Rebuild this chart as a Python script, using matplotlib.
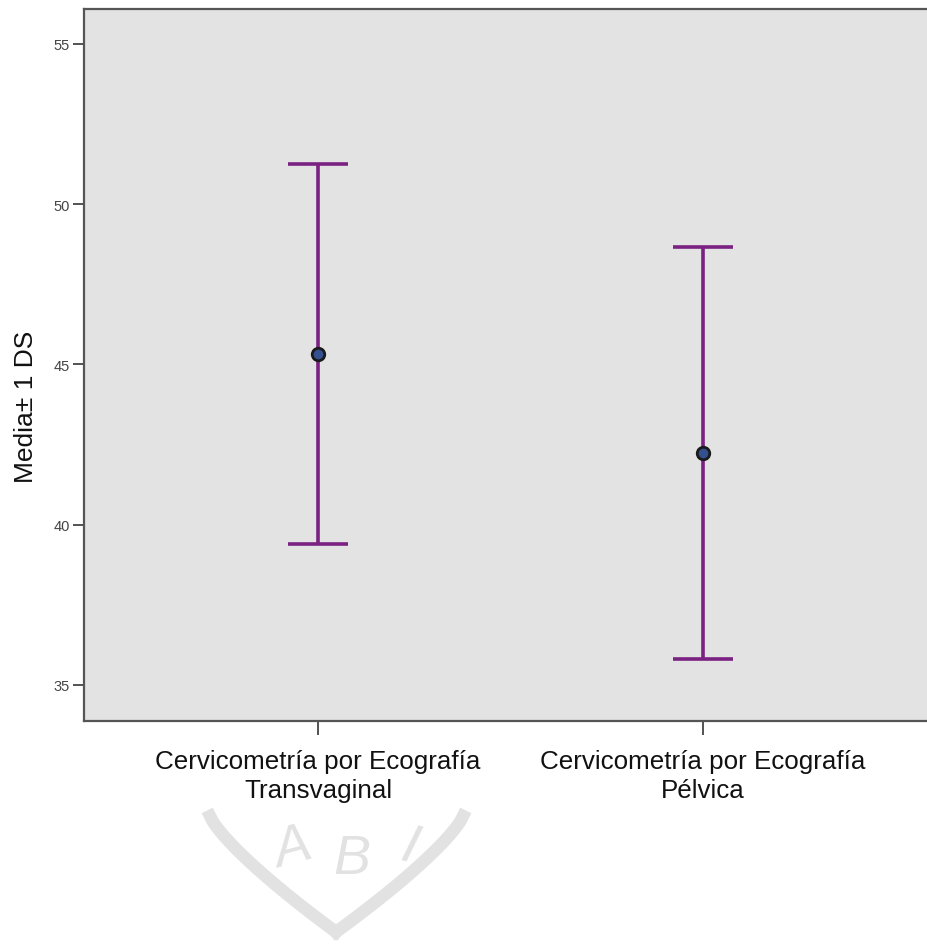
import matplotlib.pyplot as plt
import numpy as np

# data
groups = ["Cervicometría por Ecografía\nTransvaginal", "Cervicometría por Ecografía\nPélvica"]
means = [45.33, 42.23]
sd_values = [5.92, 6.43]
y_ticks = [35, 40, 45, 50, 55]

plt.rcParams['font.family'] = ['Liberation Sans', 'DejaVu Sans']

fig = plt.figure(figsize=(9.28, 9.53), dpi=100)
ax = fig.add_axes([84 / 928, 1 - 722 / 953, 1 - 84 / 928, 712 / 953])
ax.set_facecolor('#e3e3e3')

x = np.arange(len(groups))
ax.errorbar(x, means, yerr=sd_values, fmt='none', ecolor='#7a2182',
            elinewidth=2.6, capsize=21.5, capthick=2.6, zorder=2)
ax.plot(x, means, 'o', color='#34508f', markeredgecolor='#1a1a1a',
        markeredgewidth=2, markersize=9, zorder=3)

ax.set_xlim(-0.608, 1.584)
ax.set_ylim(33.875, 56.09)
ax.set_yticks(y_ticks)
ax.set_xticks(x)
ax.set_xticklabels(groups, fontsize=18.7, color='#111111', linespacing=1.25)
ax.tick_params(axis='y', labelsize=10.5, labelcolor='#444444', length=8,
               width=1.3, color='#444444', pad=2)
ax.tick_params(axis='x', length=10, width=1.3, color='#444444', pad=10)
ax.set_ylabel("Media± 1 DS", fontsize=19, color='#111111')
ax.yaxis.set_label_coords(-0.055, 0.443)

for side in ['left', 'bottom', 'top']:
    ax.spines[side].set_color('#555555')
    ax.spines[side].set_linewidth(1.6)
ax.spines['right'].set_visible(False)

# faint watermark under the labels
wm = '#e2e2e2'
t = np.linspace(0, 1, 50)
lx = 210 + (336 - 210) * t
ly = 817 + (933 - 817) * t ** 0.8
rx = 463 + (336 - 463) * t
fig.add_artist(plt.Line2D(lx / 928, 1 - ly / 953, color=wm, lw=9, zorder=0))
fig.add_artist(plt.Line2D(rx / 928, 1 - ly / 953, color=wm, lw=9, zorder=0))
for ch, px, py, rot in [("A", 293, 850, 15), ("B", 352, 860, 0), ("I", 410, 848, -15)]:
    fig.text(px / 928, 1 - py / 953, ch, fontsize=40, color=wm, rotation=rot,
             ha='center', va='center', style='italic', zorder=0)

fig.savefig("out.png", dpi=100)
